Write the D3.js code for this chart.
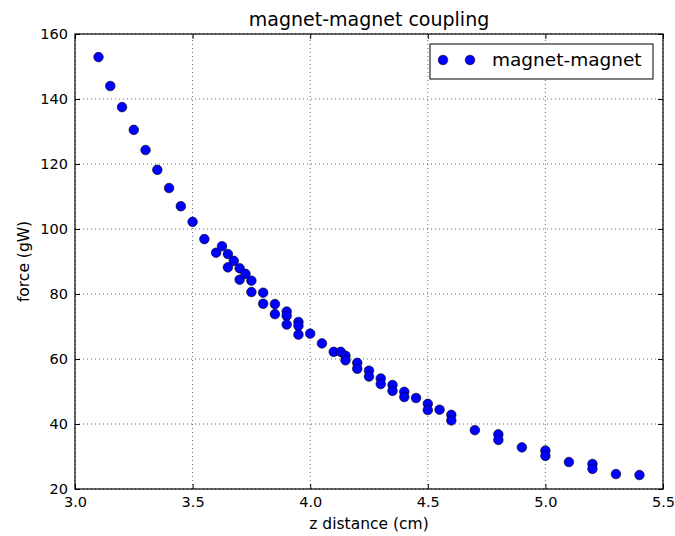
<!DOCTYPE html>
<html>
<head>
<meta charset="utf-8">
<script src="https://cdn.jsdelivr.net/npm/d3@7"></script>
<style>
  body { margin: 0; background: #fff; }
  svg text { font-family: "DejaVu Sans", sans-serif; fill: #000; }
</style>
</head>
<body>
<svg id="chart" width="675" height="536"></svg>
<script>
// z distance (cm)
const zValues = [
  3.1, 3.15, 3.2, 3.25, 3.3, 3.35, 3.4, 3.45, 3.5, 3.55,
  3.6, 3.625, 3.65, 3.65, 3.675, 3.7, 3.7, 3.725, 3.75, 3.75,
  3.8, 3.8, 3.85, 3.85, 3.9, 3.9, 3.9, 3.95, 3.95, 3.95,
  4.0, 4.05, 4.1, 4.13, 4.15, 4.15, 4.2, 4.2, 4.25, 4.25,
  4.3, 4.3, 4.35, 4.35, 4.4, 4.4, 4.45, 4.5, 4.5, 4.55,
  4.6, 4.6, 4.7, 4.8, 4.8, 4.9, 5.0, 5.0, 5.1, 5.2,
  5.2, 5.3, 5.4
];
// force (gW)
const forceValues = [
  152.9, 144.0, 137.5, 130.5, 124.3, 118.2, 112.6, 107.0, 102.2, 96.9,
  92.7, 94.7, 92.3, 88.2, 90.2, 87.9, 84.4, 86.2, 84.1, 80.6,
  80.4, 77.0, 76.9, 73.8, 74.6, 73.3, 70.6, 71.4, 70.2, 67.5,
  67.8, 64.8, 62.2, 62.2, 61.0, 59.6, 58.8, 57.0, 56.4, 54.6,
  54.0, 52.3, 52.0, 50.2, 49.9, 48.3, 48.0, 46.2, 44.3, 44.4,
  42.8, 41.1, 38.1, 36.8, 35.1, 32.8, 31.8, 30.2, 28.3, 27.7,
  26.2, 24.6, 24.3
];
const xTicks = [3.0, 3.5, 4.0, 4.5, 5.0, 5.5];
const yTicks = [20, 40, 60, 80, 100, 120, 140, 160];
const seriesName = 'magnet-magnet';

const
  margin = { top: 34, left: 75 },
  innerW = 663 - margin.left,
  innerH = 489 - margin.top;

const points = zValues.map((z, i) => ({ z, f: forceValues[i] }));

const svg = d3.select('#chart');

const x = d3.scaleLinear().domain([3.0, 5.5]).range([margin.left, margin.left + innerW]);
const y = d3.scaleLinear().domain([20, 160]).range([margin.top + innerH, margin.top]);

// grid lines (dotted)
const grid = svg.append('g');
grid.selectAll('.gx')
  .data(xTicks)
  .enter()
  .append('line')
  .attr('x1', (d) => x(d)).attr('x2', (d) => x(d))
  .attr('y1', y(20)).attr('y2', y(160))
  .attr('stroke', '#000').attr('stroke-width', 0.6)
  .attr('stroke-dasharray', '1,3');
grid.selectAll('.gy')
  .data(yTicks)
  .enter()
  .append('line')
  .attr('y1', (d) => y(d)).attr('y2', (d) => y(d))
  .attr('x1', x(3.0)).attr('x2', x(5.5))
  .attr('stroke', '#000').attr('stroke-width', 0.6)
  .attr('stroke-dasharray', '1,3');

// axes with inward ticks, like classic matplotlib
const fmtX = d3.format('.1f');
const axisStyle = (g) => {
  g.select('.domain').remove();
  g.selectAll('text').style('font-size', '14.5px').style('font-family', 'DejaVu Sans');
  g.selectAll('line').attr('stroke', '#000');
};

svg.append('g')
  .attr('transform', `translate(0,${y(20)})`)
  .call(d3.axisBottom(x).tickValues(xTicks).tickFormat(fmtX).tickSizeInner(-5).tickPadding(8))
  .call(axisStyle);
svg.append('g')
  .attr('transform', `translate(0,${y(160)})`)
  .call(d3.axisTop(x).tickValues(xTicks).tickFormat('').tickSizeInner(-5))
  .call(axisStyle);
svg.append('g')
  .attr('transform', `translate(${x(3.0)},0)`)
  .call(d3.axisLeft(y).tickValues(yTicks).tickSizeInner(-5).tickPadding(7))
  .call(axisStyle);
svg.append('g')
  .attr('transform', `translate(${x(5.5)},0)`)
  .call(d3.axisRight(y).tickValues(yTicks).tickFormat('').tickSizeInner(-5))
  .call(axisStyle);

// frame
svg.append('rect')
  .attr('x', x(3.0)).attr('y', y(160))
  .attr('width', innerW).attr('height', innerH)
  .attr('fill', 'none').attr('stroke', '#000').attr('stroke-width', 1.2);

// points
svg.append('g')
  .selectAll('circle')
  .data(points)
  .enter()
  .append('circle')
  .attr('cx', (d) => x(d.z))
  .attr('cy', (d) => y(d.f))
  .attr('r', 4.8)
  .attr('fill', '#0000ff')
  .attr('stroke', '#000')
  .attr('stroke-width', 0.6);

// title and axis labels
svg.append('text')
  .attr('x', (x(3.0) + x(5.5)) / 2).attr('y', 26)
  .attr('text-anchor', 'middle')
  .style('font-size', '19px')
  .text('magnet-magnet coupling');
svg.append('text')
  .attr('x', (x(3.0) + x(5.5)) / 2).attr('y', 529)
  .attr('text-anchor', 'middle')
  .style('font-size', '15.5px')
  .text('z distance (cm)');
svg.append('text')
  .attr('transform', `translate(29,${(y(20) + y(160)) / 2}) rotate(-90)`)
  .attr('text-anchor', 'middle')
  .style('font-size', '15.5px')
  .text('force (gW)');

// legend
const legend = svg.append('g').attr('transform', 'translate(430,44)');
legend.append('rect')
  .attr('width', 223).attr('height', 35)
  .attr('fill', '#fff').attr('stroke', '#000').attr('stroke-width', 1);
legend.selectAll('circle')
  .data([13, 40])
  .enter()
  .append('circle')
  .attr('cx', (d) => d).attr('cy', 16)
  .attr('r', 4.8)
  .attr('fill', '#0000ff').attr('stroke', '#000').attr('stroke-width', 0.6);
legend.append('text')
  .attr('x', 62).attr('y', 22)
  .style('font-size', '18.5px')
  .text(seriesName);
</script>
</body>
</html>
